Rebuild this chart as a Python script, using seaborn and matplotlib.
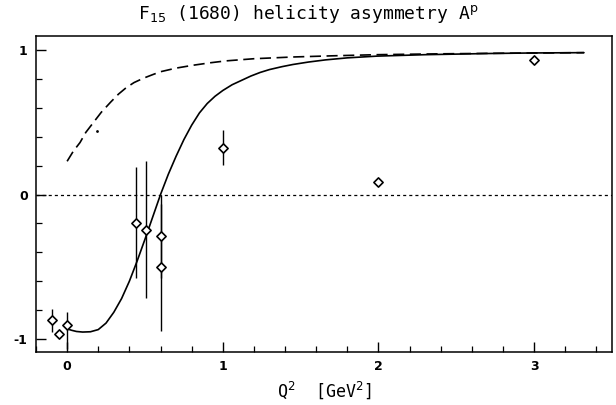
import numpy as np
import pandas as pd
import matplotlib
matplotlib.use("Agg")
import matplotlib.pyplot as plt
from matplotlib.ticker import MultipleLocator
import seaborn as sns

# ---- data ----
pt_q2 = [-0.10, -0.05, 0.00, 0.44, 0.505, 0.605, 0.605, 1.00, 2.00, 3.00, 0.19]
pt_a = [-0.87, -0.965, -0.90, -0.20, -0.245, -0.29, -0.505, 0.325, 0.09, 0.93, 0.44]
pt_err_lo = [0.08, 0.0, 0.17, 0.38, 0.47, 0.29, 0.44, 0.12, 0.0, 0.0, 0.0]
pt_err_hi = [0.08, 0.0, 0.09, 0.39, 0.48, 0.29, 0.44, 0.12, 0.0, 0.0, 0.0]
pt_kind = ["diamond"] * 10 + ["dot"]

solid_q2 = [0.00, 0.03, 0.06, 0.10, 0.15, 0.20, 0.25, 0.30, 0.35, 0.40, 0.45, 0.50,
            0.55, 0.60, 0.65, 0.70, 0.75, 0.80, 0.85, 0.90, 0.95, 1.00, 1.06, 1.12,
            1.18, 1.24, 1.30, 1.38, 1.45, 1.55, 1.66, 1.80, 1.99, 2.30, 2.70, 3.00, 3.32]
solid_a = [-0.93, -0.94, -0.948, -0.952, -0.95, -0.935, -0.89, -0.815, -0.72, -0.60,
           -0.46, -0.31, -0.155, 0.00, 0.14, 0.265, 0.38, 0.48, 0.565, 0.63, 0.68, 0.72,
           0.76, 0.79, 0.82, 0.845, 0.865, 0.885, 0.90, 0.917, 0.932, 0.946, 0.958,
           0.968, 0.976, 0.98, 0.982]

dash_q2 = [0.00, 0.04, 0.083, 0.12, 0.17, 0.22, 0.28, 0.33, 0.38, 0.43, 0.49, 0.55,
           0.60, 0.70, 0.81, 0.92, 1.02, 1.20, 1.45, 1.70, 1.99, 2.40, 2.80, 3.32]
dash_a = [0.23, 0.30, 0.36, 0.43, 0.50, 0.57, 0.64, 0.695, 0.74, 0.775, 0.805, 0.83,
          0.85, 0.875, 0.895, 0.912, 0.925, 0.94, 0.952, 0.96, 0.968, 0.974, 0.978, 0.982]

title_text = r"F$_{15}$ (1680) helicity asymmetry A$^{\mathrm{p}}$"
xlabel_text = r"Q$^{2}$  [GeV$^{2}$]"
xtick_vals = [0, 1, 2, 3]
ytick_vals = [-1, 0, 1]

# ---- plot ----
sns.set_theme(style="ticks")
plt.rcParams["font.family"] = ["DejaVu Sans"]
plt.rcParams["lines.scale_dashes"] = False
plt.rcParams["text.color"] = "black"

fig = plt.figure(figsize=(6.16, 4.05), dpi=100)
ax = fig.add_axes([0.0584, 0.1309, 0.9351, 0.7801])

pts = pd.DataFrame({"q2": pt_q2, "a": pt_a, "lo": pt_err_lo, "hi": pt_err_hi, "kind": pt_kind})
diam = pts[pts.kind == "diamond"]
dot = pts[pts.kind == "dot"]

zl = ax.axhline(0, color="black", lw=0.9, zorder=1)
zl.set_dashes([2.2, 2.2])

sns.lineplot(x=solid_q2, y=solid_a, sort=False, color="black", lw=1.2, ax=ax, zorder=2)
sns.lineplot(x=dash_q2, y=dash_a, sort=False, color="black", lw=1.2, ax=ax, zorder=2)
ax.lines[-1].set_dashes([8, 4])

ax.errorbar(diam.q2, diam.a, yerr=[diam.lo, diam.hi], fmt="none", ecolor="black",
            elinewidth=1.0, capsize=0, zorder=3)
sns.scatterplot(x=diam.q2, y=diam.a, marker="D", s=22, facecolor="white",
                edgecolor="black", linewidth=1.2, ax=ax, zorder=4)
sns.scatterplot(x=dot.q2, y=dot.a, marker="o", s=4, color="black", linewidth=0, ax=ax, zorder=4)

ax.set_xlim(-0.2, 3.5)
ax.set_ylim(-1.09, 1.097)
ax.set_xticks(xtick_vals)
ax.set_yticks(ytick_vals)
ax.set_xticklabels([str(v) for v in xtick_vals], fontsize=9, fontweight="bold")
ax.set_yticklabels([str(v) for v in ytick_vals], fontsize=9, fontweight="bold")
ax.xaxis.set_minor_locator(MultipleLocator(0.2))
ax.yaxis.set_minor_locator(MultipleLocator(0.2))
ax.tick_params(which="major", direction="in", length=7, width=1.0, pad=6, colors="black")
ax.tick_params(which="minor", direction="in", length=4, width=0.9, colors="black")
ax.tick_params(top=False, right=False, which="both")
for s in ax.spines.values():
    s.set_linewidth(1.1)
    s.set_color("black")

ax.set_xlabel(xlabel_text, fontsize=12, family="DejaVu Sans Mono", labelpad=4, color="black")
ax.set_ylabel("")
fig.text(0.5, 0.965, title_text, ha="center", va="center", fontsize=13,
         family="DejaVu Sans Mono", color="black")

fig.savefig("out.png", dpi=100, facecolor="white")
